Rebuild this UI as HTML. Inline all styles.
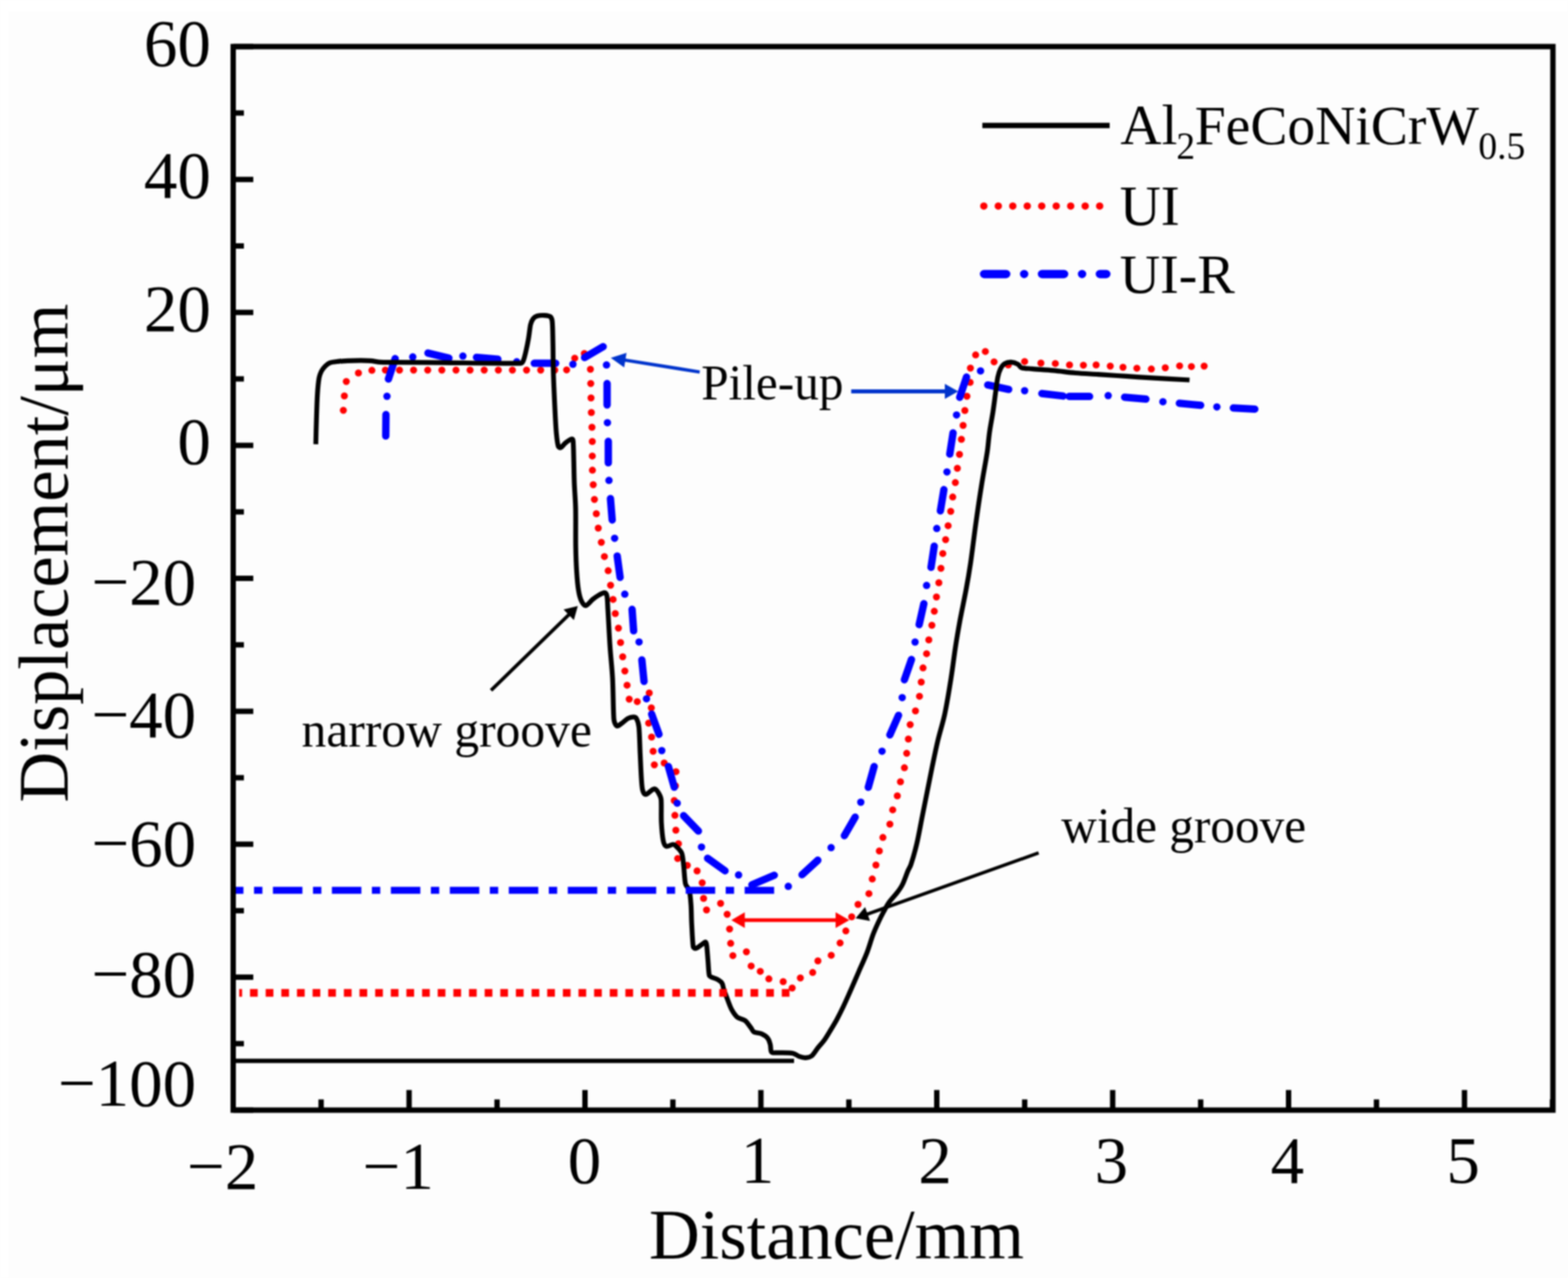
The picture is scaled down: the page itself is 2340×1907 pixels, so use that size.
<!DOCTYPE html>
<html><head><meta charset="utf-8"><title>Displacement profile</title>
<style>html,body{margin:0;padding:0;background:#fdfdfd;}svg{display:block;filter:blur(1px)}</style></head>
<body><svg width="2340" height="1907" viewBox="0 0 2340 1907">
<rect width="2340" height="1907" fill="#fdfdfd"/><rect width="2340" height="17" fill="#ffffff"/><rect width="13" height="1907" fill="#ffffff"/>
<g fill="#ff0000"><circle cx="512.4" cy="612.3" r="5.25"/><circle cx="513.9" cy="590.8" r="5.25"/><circle cx="516.8" cy="569.3" r="5.25"/><circle cx="534.9" cy="556.5" r="5.25"/><circle cx="555.0" cy="552.6" r="5.25"/><circle cx="575.1" cy="552.3" r="5.25"/><circle cx="596.2" cy="552.3" r="5.25"/><circle cx="617.2" cy="552.3" r="5.25"/><circle cx="638.3" cy="552.3" r="5.25"/><circle cx="659.4" cy="552.3" r="5.25"/><circle cx="680.5" cy="552.3" r="5.25"/><circle cx="701.5" cy="552.3" r="5.25"/><circle cx="722.6" cy="552.3" r="5.25"/><circle cx="743.7" cy="552.3" r="5.25"/><circle cx="764.7" cy="552.3" r="5.25"/><circle cx="785.8" cy="552.3" r="5.25"/><circle cx="806.9" cy="552.3" r="5.25"/><circle cx="827.9" cy="552.3" r="5.25"/><circle cx="845.6" cy="551.9" r="5.25"/><circle cx="857.7" cy="534.4" r="5.25"/><circle cx="872.0" cy="527.5" r="5.25"/><circle cx="881.1" cy="551.0" r="5.25"/><circle cx="881.6" cy="572.2" r="5.25"/><circle cx="882.0" cy="593.8" r="5.25"/><circle cx="882.5" cy="615.5" r="5.25"/><circle cx="883.4" cy="637.5" r="5.25"/><circle cx="883.9" cy="658.7" r="5.25"/><circle cx="883.9" cy="680.4" r="5.25"/><circle cx="884.1" cy="701.6" r="5.25"/><circle cx="885.3" cy="723.2" r="5.25"/><circle cx="887.1" cy="745.3" r="5.25"/><circle cx="889.9" cy="766.5" r="5.25"/><circle cx="892.8" cy="788.0" r="5.25"/><circle cx="897.4" cy="809.2" r="5.25"/><circle cx="902.0" cy="830.4" r="5.25"/><circle cx="907.6" cy="851.6" r="5.25"/><circle cx="911.2" cy="873.2" r="5.25"/><circle cx="914.9" cy="894.4" r="5.25"/><circle cx="918.2" cy="915.5" r="5.25"/><circle cx="922.9" cy="937.2" r="5.25"/><circle cx="926.1" cy="958.8" r="5.25"/><circle cx="929.3" cy="980.0" r="5.25"/><circle cx="932.5" cy="1001.2" r="5.25"/><circle cx="935.8" cy="1022.4" r="5.25"/><circle cx="939.0" cy="1043.2" r="5.25"/><circle cx="951.0" cy="1046.9" r="5.25"/><circle cx="968.9" cy="1034.0" r="5.25"/><circle cx="972.0" cy="1056.3" r="5.25"/><circle cx="968.0" cy="1079.0" r="5.25"/><circle cx="972.4" cy="1099.8" r="5.25"/><circle cx="974.7" cy="1121.0" r="5.25"/><circle cx="976.5" cy="1141.2" r="5.25"/><circle cx="991.2" cy="1138.5" r="5.25"/><circle cx="1008.8" cy="1151.4" r="5.25"/><circle cx="1008.0" cy="1172.5" r="5.25"/><circle cx="1006.2" cy="1194.5" r="5.25"/><circle cx="1007.2" cy="1216.6" r="5.25"/><circle cx="1008.6" cy="1238.7" r="5.25"/><circle cx="1012.5" cy="1259.0" r="5.25"/><circle cx="1011.3" cy="1281.1" r="5.25"/><circle cx="1025.7" cy="1291.2" r="5.25"/><circle cx="1040.3" cy="1299.5" r="5.25"/><circle cx="1047.9" cy="1317.2" r="5.25"/><circle cx="1050.0" cy="1340.5" r="5.25"/><circle cx="1054.4" cy="1357.7" r="5.25"/><circle cx="1075.4" cy="1348.0" r="5.25"/><circle cx="1085.2" cy="1364.2" r="5.25"/><circle cx="1088.8" cy="1386.3" r="5.25"/><circle cx="1090.4" cy="1407.6" r="5.25"/><circle cx="1093.7" cy="1425.9" r="5.25"/><circle cx="1113.9" cy="1420.3" r="5.25"/><circle cx="1121.0" cy="1441.4" r="5.25"/><circle cx="1134.6" cy="1449.4" r="5.25"/><circle cx="1147.4" cy="1460.6" r="5.25"/><circle cx="1168.8" cy="1464.8" r="5.25"/><circle cx="1182.2" cy="1474.2" r="5.25"/><circle cx="1194.4" cy="1459.2" r="5.25"/><circle cx="1212.8" cy="1451.1" r="5.25"/><circle cx="1220.6" cy="1433.8" r="5.25"/><circle cx="1240.5" cy="1425.4" r="5.25"/><circle cx="1253.7" cy="1407.1" r="5.25"/><circle cx="1262.3" cy="1389.1" r="5.25"/><circle cx="1271.0" cy="1368.0" r="5.25"/><circle cx="1280.5" cy="1349.5" r="5.25"/><circle cx="1296.7" cy="1333.4" r="5.25"/><circle cx="1301.7" cy="1311.6" r="5.25"/><circle cx="1307.2" cy="1290.7" r="5.25"/><circle cx="1312.3" cy="1269.8" r="5.25"/><circle cx="1317.6" cy="1249.6" r="5.25"/><circle cx="1328.0" cy="1229.8" r="5.25"/><circle cx="1332.2" cy="1208.4" r="5.25"/><circle cx="1339.1" cy="1187.5" r="5.25"/><circle cx="1343.8" cy="1166.5" r="5.25"/><circle cx="1349.7" cy="1145.6" r="5.25"/><circle cx="1353.1" cy="1124.1" r="5.25"/><circle cx="1355.6" cy="1102.8" r="5.25"/><circle cx="1358.3" cy="1081.3" r="5.25"/><circle cx="1366.2" cy="1060.8" r="5.25"/><circle cx="1372.2" cy="1038.9" r="5.25"/><circle cx="1374.8" cy="1017.7" r="5.25"/><circle cx="1377.5" cy="996.6" r="5.25"/><circle cx="1382.8" cy="975.4" r="5.25"/><circle cx="1386.1" cy="954.8" r="5.25"/><circle cx="1390.7" cy="933.0" r="5.25"/><circle cx="1394.3" cy="912.1" r="5.25"/><circle cx="1397.5" cy="890.8" r="5.25"/><circle cx="1401.1" cy="869.5" r="5.25"/><circle cx="1404.2" cy="848.0" r="5.25"/><circle cx="1407.0" cy="825.9" r="5.25"/><circle cx="1411.2" cy="805.2" r="5.25"/><circle cx="1414.9" cy="784.4" r="5.25"/><circle cx="1418.8" cy="763.0" r="5.25"/><circle cx="1421.8" cy="741.6" r="5.25"/><circle cx="1425.7" cy="720.1" r="5.25"/><circle cx="1428.7" cy="698.7" r="5.25"/><circle cx="1431.9" cy="678.0" r="5.25"/><circle cx="1434.7" cy="655.5" r="5.25"/><circle cx="1437.3" cy="634.8" r="5.25"/><circle cx="1439.9" cy="612.5" r="5.25"/><circle cx="1443.0" cy="591.2" r="5.25"/><circle cx="1447.7" cy="570.5" r="5.25"/><circle cx="1448.2" cy="549.3" r="5.25"/><circle cx="1456.0" cy="529.6" r="5.25"/><circle cx="1470.5" cy="524.4" r="5.25"/><circle cx="1483.5" cy="539.9" r="5.25"/><circle cx="1504.7" cy="544.6" r="5.25"/><circle cx="1529.1" cy="539.4" r="5.25"/><circle cx="1553.4" cy="541.7" r="5.25"/><circle cx="1574.9" cy="542.4" r="5.25"/><circle cx="1596.1" cy="544.5" r="5.25"/><circle cx="1616.8" cy="544.9" r="5.25"/><circle cx="1635.8" cy="544.5" r="5.25"/><circle cx="1656.9" cy="546.3" r="5.25"/><circle cx="1675.9" cy="548.0" r="5.25"/><circle cx="1696.6" cy="549.4" r="5.25"/><circle cx="1718.2" cy="550.6" r="5.25"/><circle cx="1739.0" cy="548.7" r="5.25"/><circle cx="1760.4" cy="545.9" r="5.25"/><circle cx="1778.0" cy="546.9" r="5.25"/><circle cx="1797.0" cy="546.3" r="5.25"/></g>
<path d="M575.7 650.6L576.0 618.6M579.7 565.5L589.7 535.1M638.7 526.8L669.9 534.4M711.1 533.2L743.0 536.0M797.3 542.1L829.3 542.1M872.4 533.4L900.1 517.3M906.0 572.3L906.0 604.3M907.8 658.6L907.8 690.6M911.0 744.0L913.6 775.9M921.1 829.7L925.4 861.5M943.3 909.3L945.6 941.3M957.9 984.8L961.1 1016.7M972.5 1065.6L983.4 1095.7M997.5 1143.8L1006.2 1174.6M1020.1 1217.1L1042.3 1240.1M1056.0 1280.8L1082.0 1299.4M1122.1 1320.3L1155.5 1306.0M1196.9 1305.3L1220.5 1283.6M1260.1 1246.9L1276.2 1219.3M1295.8 1174.7L1304.5 1143.8M1328.0 1096.6L1340.9 1067.4M1349.7 1014.3L1360.2 984.1M1371.7 932.0L1378.7 900.8M1389.4 846.6L1394.2 814.9M1403.4 762.2L1408.6 730.6M1417.4 677.6L1422.3 646.0M1432.2 592.9L1442.4 562.6M1474.1 574.4L1505.3 581.1M1554.8 587.2L1586.5 590.9M1595.5 591.4L1626.0 591.6M1678.3 592.8L1710.1 595.5M1760.0 601.8L1791.8 604.8M1840.6 608.8L1872.6 610.5" stroke="#0000ff" stroke-width="11" stroke-linecap="round" fill="none"/>
<g fill="#0000ff"><circle cx="577.5" cy="591.3" r="5.5"/><circle cx="616.0" cy="532.6" r="5.5"/><circle cx="690.8" cy="531.3" r="5.5"/><circle cx="771.2" cy="539.8" r="5.5"/><circle cx="855.0" cy="543.5" r="5.5"/><circle cx="905.1" cy="544.6" r="5.5"/><circle cx="906.5" cy="630.7" r="5.5"/><circle cx="908.8" cy="716.8" r="5.5"/><circle cx="917.2" cy="803.2" r="5.5"/><circle cx="932.4" cy="886.6" r="5.5"/><circle cx="953.7" cy="957.9" r="5.5"/><circle cx="964.8" cy="1042.7" r="5.5"/><circle cx="987.6" cy="1120.0" r="5.5"/><circle cx="1010.6" cy="1198.4" r="5.5"/><circle cx="1046.9" cy="1263.9" r="5.5"/><circle cx="1102.2" cy="1305.6" r="5.5"/><circle cx="1176.4" cy="1322.6" r="5.5"/><circle cx="1240.3" cy="1264.8" r="5.5"/><circle cx="1284.6" cy="1197.0" r="5.5"/><circle cx="1316.3" cy="1120.9" r="5.5"/><circle cx="1346.4" cy="1040.9" r="5.5"/><circle cx="1365.6" cy="958.1" r="5.5"/><circle cx="1382.8" cy="873.6" r="5.5"/><circle cx="1398.0" cy="788.6" r="5.5"/><circle cx="1413.2" cy="704.2" r="5.5"/><circle cx="1427.5" cy="619.2" r="5.5"/><circle cx="1463.3" cy="553.4" r="5.5"/><circle cx="1529.1" cy="583.0" r="5.5"/><circle cx="1653.8" cy="590.3" r="5.5"/><circle cx="1735.5" cy="599.4" r="5.5"/><circle cx="1816.0" cy="607.2" r="5.5"/></g>
<path d="M471.3 662.8C471.4 656.9 471.8 639.3 472.2 627.5C472.6 615.1 473.0 599.0 473.7 588.4C474.2 580.2 475.2 569.6 476.2 563.9C476.8 560.5 478.1 557.0 479.6 554.0C481.1 551.1 483.4 548.3 485.5 546.2C487.5 544.2 489.7 542.3 492.3 541.3C495.4 540.2 500.1 539.8 504.0 539.4C508.4 538.9 513.9 538.6 518.8 538.4C524.5 538.1 532.7 537.9 538.4 537.9C543.3 537.9 548.1 538.0 553.0 538.4C557.9 538.8 562.8 540.1 567.7 540.4C573.4 540.8 580.8 540.6 587.3 540.6C602.7 540.7 635.8 540.9 660.0 541.1C691.6 541.4 756.9 542.6 777.1 542.1C779.0 542.1 780.3 539.8 781.0 538.1C782.3 535.0 783.9 528.4 785.0 523.5C786.3 517.8 787.8 510.4 788.9 503.9C790.0 497.4 790.7 489.0 791.8 484.3C792.5 481.2 794.1 477.6 795.7 475.5C797.1 473.6 799.3 472.2 801.6 471.5C804.4 470.7 809.1 470.4 812.4 470.6C815.4 470.8 819.2 471.0 821.2 472.5C823.2 474.0 823.8 476.9 824.1 479.4C824.8 485.4 824.9 499.0 825.1 508.8C825.4 520.2 825.4 536.5 825.6 547.9C825.8 557.7 826.2 567.5 826.6 577.3C827.1 589.3 828.0 608.3 828.6 620.0C829.1 629.2 829.6 639.9 830.4 647.6C831.0 653.8 832.1 662.7 833.2 666.1C833.6 667.4 835.7 668.5 836.9 667.9C838.7 667.0 841.5 662.7 844.2 660.6C847.0 658.5 851.6 655.3 853.5 655.0C854.9 654.8 855.2 657.3 855.3 658.7C855.8 663.6 856.0 675.9 856.2 684.5C856.5 695.0 856.6 709.1 857.1 721.4C857.6 733.7 858.7 745.9 859.0 758.2C859.4 774.0 858.9 800.3 859.2 816.1C859.4 828.4 859.9 842.1 860.6 852.9C861.2 862.2 862.1 873.2 863.3 880.6C864.2 886.3 866.0 893.4 867.9 897.2C869.2 899.9 871.6 904.1 874.4 903.6C877.2 903.1 881.3 897.0 884.5 894.4C887.4 892.1 890.8 889.7 893.7 888.0C896.3 886.5 900.0 884.1 902.0 884.3C904.0 884.4 905.3 887.0 905.7 888.9C906.6 892.9 906.7 901.8 907.1 908.2C907.9 920.9 909.2 948.1 910.4 965.3C911.4 980.7 913.3 996.0 914.1 1011.4C915.1 1029.3 915.1 1061.0 916.1 1073.0C916.4 1076.7 918.4 1082.1 920.3 1083.2C922.2 1084.3 925.3 1081.0 927.6 1079.5C930.4 1077.7 934.0 1073.7 936.9 1072.1C939.4 1070.7 943.1 1069.8 945.2 1069.8C946.9 1069.8 949.0 1070.6 949.8 1072.1C951.2 1074.6 953.0 1080.6 953.5 1085.0C954.4 1093.6 954.7 1111.1 955.3 1123.7C955.9 1136.0 956.5 1151.4 957.1 1160.6C957.5 1166.8 957.9 1174.8 959.0 1179.0C959.7 1181.6 961.3 1185.5 963.6 1185.5C965.9 1185.5 970.5 1180.4 972.8 1179.0C974.2 1178.2 975.9 1176.5 977.4 1177.2C979.1 1178.0 981.6 1181.2 983.0 1183.6C984.5 1186.2 986.3 1189.6 986.6 1192.9C987.3 1200.1 986.5 1216.6 987.0 1226.9C987.5 1236.1 988.6 1248.5 989.8 1254.5C990.4 1257.6 991.9 1261.9 994.4 1262.8C996.9 1263.7 1001.9 1259.8 1004.5 1260.0C1006.7 1260.1 1008.4 1262.1 1010.0 1263.7C1012.1 1265.9 1016.0 1269.3 1017.4 1273.0C1019.1 1277.6 1019.5 1285.2 1020.2 1291.4C1021.1 1299.1 1021.6 1312.9 1023.0 1319.0C1023.8 1322.5 1027.6 1324.7 1028.5 1328.2C1029.9 1333.4 1030.7 1342.7 1031.2 1350.0C1031.8 1358.2 1031.7 1368.4 1032.2 1377.6C1032.8 1388.1 1033.5 1407.0 1034.6 1413.2C1034.9 1414.7 1037.3 1415.5 1038.8 1415.1C1040.9 1414.5 1044.8 1411.1 1047.2 1409.5C1049.1 1408.2 1051.7 1405.4 1052.9 1405.7C1054.2 1406.0 1054.4 1409.4 1054.7 1411.4C1055.3 1416.1 1056.0 1426.6 1056.6 1433.9C1057.2 1441.1 1057.5 1451.4 1058.5 1455.5C1058.9 1457.0 1060.9 1457.6 1062.3 1458.3C1064.2 1459.2 1067.5 1459.8 1069.8 1461.1C1072.3 1462.5 1075.6 1464.3 1077.3 1466.8C1079.0 1469.3 1079.0 1473.1 1080.1 1476.2C1081.5 1480.2 1083.7 1486.1 1085.6 1491.0C1087.6 1496.1 1089.7 1502.5 1092.2 1507.0C1094.5 1511.1 1097.4 1515.5 1100.7 1518.2C1103.9 1520.7 1108.7 1520.4 1111.9 1522.9C1115.2 1525.4 1118.2 1530.4 1120.4 1533.2C1122.1 1535.3 1122.8 1538.4 1125.1 1539.8C1127.8 1541.4 1132.9 1541.0 1136.3 1542.6C1139.7 1544.2 1143.5 1546.5 1145.7 1549.2C1147.9 1551.8 1148.6 1555.3 1149.5 1558.6C1150.5 1562.0 1149.7 1567.9 1151.4 1569.9C1153.1 1571.9 1157.0 1570.6 1159.8 1570.8C1165.1 1571.1 1177.8 1570.8 1183.3 1571.7C1186.8 1572.3 1189.6 1575.3 1192.7 1576.4C1195.7 1577.5 1199.0 1578.5 1202.1 1578.3C1205.2 1578.1 1208.9 1577.5 1211.5 1575.5C1214.6 1573.0 1217.7 1567.2 1220.8 1563.3C1223.9 1559.5 1227.4 1556.0 1230.2 1552.0C1233.3 1547.6 1236.5 1542.0 1239.6 1537.0C1242.7 1531.8 1246.1 1526.4 1249.0 1521.0C1252.1 1515.2 1255.4 1508.6 1258.4 1502.3C1261.5 1495.7 1264.7 1488.5 1267.8 1481.6C1270.9 1474.5 1274.8 1465.5 1277.2 1460.0C1278.8 1456.2 1280.5 1452.4 1282.1 1448.6C1284.8 1442.3 1290.1 1431.1 1293.6 1422.1C1297.1 1413.1 1300.0 1402.2 1302.9 1394.5C1305.3 1388.2 1308.2 1381.8 1310.9 1376.0C1313.4 1370.6 1316.3 1364.9 1319.0 1359.9C1321.5 1355.2 1323.9 1350.4 1327.0 1346.1C1330.3 1341.5 1335.3 1336.6 1338.6 1332.3C1341.6 1328.4 1344.5 1324.4 1346.7 1320.0C1349.4 1314.6 1352.6 1305.0 1354.7 1300.0C1356.1 1296.6 1358.3 1293.6 1359.4 1290.1C1361.7 1283.2 1365.8 1269.1 1368.3 1258.4C1371.0 1246.8 1373.4 1233.1 1375.9 1220.4C1378.4 1207.7 1381.0 1195.1 1383.5 1182.4C1386.0 1169.7 1388.5 1157.0 1391.1 1144.4C1393.8 1131.5 1396.5 1118.1 1399.6 1105.0C1402.7 1091.8 1407.1 1078.7 1409.9 1065.4C1413.2 1050.0 1416.6 1029.0 1419.2 1012.5C1421.7 997.1 1423.6 980.5 1425.8 966.1C1427.8 952.8 1430.1 939.6 1432.5 926.4C1435.2 912.0 1439.0 894.5 1441.7 880.0C1444.2 866.6 1446.5 853.2 1448.5 839.7C1451.0 822.6 1454.0 797.1 1456.8 777.5C1459.4 759.0 1462.3 739.5 1465.1 722.2C1467.7 706.0 1471.5 686.6 1473.4 673.8C1474.8 664.3 1475.3 654.7 1476.7 645.2C1478.1 635.2 1480.3 624.5 1481.9 614.1C1483.5 603.8 1484.9 591.6 1486.1 583.0C1487.1 576.1 1488.0 567.7 1489.2 562.2C1490.1 557.9 1491.6 553.1 1493.3 549.8C1494.8 547.0 1496.9 544.1 1499.5 542.5C1502.1 540.9 1505.7 540.2 1508.9 540.4C1512.2 540.6 1516.6 542.2 1519.2 543.6C1521.3 544.7 1522.1 547.9 1524.4 548.7C1527.9 549.8 1534.8 549.9 1540.0 550.4C1548.0 551.1 1561.6 551.9 1572.4 552.9C1583.2 553.9 1594.0 555.6 1604.8 556.5C1615.8 557.5 1627.3 557.9 1638.6 558.6C1651.3 559.4 1666.7 560.5 1680.8 561.4C1694.9 562.3 1709.0 563.4 1723.1 564.2C1738.8 565.1 1766.5 566.5 1775.2 567.0" stroke="#000" stroke-width="7.2" fill="none" stroke-linejoin="round"/>
<line x1="352" y1="1583" x2="1185" y2="1583" stroke="#000" stroke-width="6.5"/>
<g fill="#ff0000"><rect x="357.0" y="1475.8" width="4.3" height="11.5"/><rect x="373.1" y="1475.8" width="11.5" height="11.5"/><rect x="396.5" y="1475.8" width="11.5" height="11.5"/><rect x="419.8" y="1475.8" width="11.5" height="11.5"/><rect x="443.2" y="1475.8" width="11.5" height="11.5"/><rect x="466.5" y="1475.8" width="11.5" height="11.5"/><rect x="489.8" y="1475.8" width="11.5" height="11.5"/><rect x="513.2" y="1475.8" width="11.5" height="11.5"/><rect x="536.5" y="1475.8" width="11.5" height="11.5"/><rect x="559.9" y="1475.8" width="11.5" height="11.5"/><rect x="583.2" y="1475.8" width="11.5" height="11.5"/><rect x="606.5" y="1475.8" width="11.5" height="11.5"/><rect x="629.9" y="1475.8" width="11.5" height="11.5"/><rect x="653.2" y="1475.8" width="11.5" height="11.5"/><rect x="676.6" y="1475.8" width="11.5" height="11.5"/><rect x="699.9" y="1475.8" width="11.5" height="11.5"/><rect x="723.3" y="1475.8" width="11.5" height="11.5"/><rect x="746.6" y="1475.8" width="11.5" height="11.5"/><rect x="769.9" y="1475.8" width="11.5" height="11.5"/><rect x="793.3" y="1475.8" width="11.5" height="11.5"/><rect x="816.6" y="1475.8" width="11.5" height="11.5"/><rect x="840.0" y="1475.8" width="11.5" height="11.5"/><rect x="863.3" y="1475.8" width="11.5" height="11.5"/><rect x="886.6" y="1475.8" width="11.5" height="11.5"/><rect x="910.0" y="1475.8" width="11.5" height="11.5"/><rect x="933.3" y="1475.8" width="11.5" height="11.5"/><rect x="956.7" y="1475.8" width="11.5" height="11.5"/><rect x="980.0" y="1475.8" width="11.5" height="11.5"/><rect x="1003.3" y="1475.8" width="11.5" height="11.5"/><rect x="1026.7" y="1475.8" width="11.5" height="11.5"/><rect x="1050.0" y="1475.8" width="11.5" height="11.5"/><rect x="1073.4" y="1475.8" width="11.5" height="11.5"/><rect x="1096.7" y="1475.8" width="11.5" height="11.5"/><rect x="1120.0" y="1475.8" width="11.5" height="11.5"/><rect x="1143.4" y="1475.8" width="11.5" height="11.5"/><rect x="1166.7" y="1475.8" width="11.5" height="11.5"/></g>
<g fill="#0000ff"><rect x="352.0" y="1323.3" width="11.3" height="10.4"/><rect x="407.3" y="1323.3" width="44.0" height="10.4"/><rect x="379.1" y="1323.3" width="12.5" height="10.4"/><rect x="495.3" y="1323.3" width="44.0" height="10.4"/><rect x="467.1" y="1323.3" width="12.5" height="10.4"/><rect x="583.3" y="1323.3" width="44.0" height="10.4"/><rect x="555.0" y="1323.3" width="12.5" height="10.4"/><rect x="671.3" y="1323.3" width="44.0" height="10.4"/><rect x="643.0" y="1323.3" width="12.5" height="10.4"/><rect x="759.3" y="1323.3" width="44.0" height="10.4"/><rect x="731.0" y="1323.3" width="12.5" height="10.4"/><rect x="847.3" y="1323.3" width="44.0" height="10.4"/><rect x="819.0" y="1323.3" width="12.5" height="10.4"/><rect x="935.3" y="1323.3" width="44.0" height="10.4"/><rect x="907.0" y="1323.3" width="12.5" height="10.4"/><rect x="1023.3" y="1323.3" width="44.0" height="10.4"/><rect x="995.0" y="1323.3" width="12.5" height="10.4"/><rect x="1111.3" y="1323.3" width="44.0" height="10.4"/><rect x="1083.0" y="1323.3" width="12.5" height="10.4"/></g>
<rect x="348" y="69.5" width="1969.5" height="1587" fill="none" stroke="#000" stroke-width="8"/>
<line x1="348.0" y1="1656.5" x2="348.0" y2="1626.5" stroke="#000" stroke-width="8"/>
<line x1="479.2" y1="1656.5" x2="479.2" y2="1640.5" stroke="#000" stroke-width="8"/>
<line x1="610.5" y1="1656.5" x2="610.5" y2="1626.5" stroke="#000" stroke-width="8"/>
<line x1="741.8" y1="1656.5" x2="741.8" y2="1640.5" stroke="#000" stroke-width="8"/>
<line x1="873.0" y1="1656.5" x2="873.0" y2="1626.5" stroke="#000" stroke-width="8"/>
<line x1="1004.2" y1="1656.5" x2="1004.2" y2="1640.5" stroke="#000" stroke-width="8"/>
<line x1="1135.5" y1="1656.5" x2="1135.5" y2="1626.5" stroke="#000" stroke-width="8"/>
<line x1="1266.8" y1="1656.5" x2="1266.8" y2="1640.5" stroke="#000" stroke-width="8"/>
<line x1="1398.0" y1="1656.5" x2="1398.0" y2="1626.5" stroke="#000" stroke-width="8"/>
<line x1="1529.2" y1="1656.5" x2="1529.2" y2="1640.5" stroke="#000" stroke-width="8"/>
<line x1="1660.5" y1="1656.5" x2="1660.5" y2="1626.5" stroke="#000" stroke-width="8"/>
<line x1="1791.8" y1="1656.5" x2="1791.8" y2="1640.5" stroke="#000" stroke-width="8"/>
<line x1="1923.0" y1="1656.5" x2="1923.0" y2="1626.5" stroke="#000" stroke-width="8"/>
<line x1="2054.2" y1="1656.5" x2="2054.2" y2="1640.5" stroke="#000" stroke-width="8"/>
<line x1="2185.5" y1="1656.5" x2="2185.5" y2="1626.5" stroke="#000" stroke-width="8"/>
<line x1="2316.8" y1="1656.5" x2="2316.8" y2="1640.5" stroke="#000" stroke-width="8"/>
<line x1="348" y1="1656.5" x2="378" y2="1656.5" stroke="#000" stroke-width="8"/>
<line x1="348" y1="1557.3" x2="364" y2="1557.3" stroke="#000" stroke-width="8"/>
<line x1="348" y1="1458.1" x2="378" y2="1458.1" stroke="#000" stroke-width="8"/>
<line x1="348" y1="1358.9" x2="364" y2="1358.9" stroke="#000" stroke-width="8"/>
<line x1="348" y1="1259.7" x2="378" y2="1259.7" stroke="#000" stroke-width="8"/>
<line x1="348" y1="1160.5" x2="364" y2="1160.5" stroke="#000" stroke-width="8"/>
<line x1="348" y1="1061.4" x2="378" y2="1061.4" stroke="#000" stroke-width="8"/>
<line x1="348" y1="962.2" x2="364" y2="962.2" stroke="#000" stroke-width="8"/>
<line x1="348" y1="863.0" x2="378" y2="863.0" stroke="#000" stroke-width="8"/>
<line x1="348" y1="763.8" x2="364" y2="763.8" stroke="#000" stroke-width="8"/>
<line x1="348" y1="664.6" x2="378" y2="664.6" stroke="#000" stroke-width="8"/>
<line x1="348" y1="565.4" x2="364" y2="565.4" stroke="#000" stroke-width="8"/>
<line x1="348" y1="466.2" x2="378" y2="466.2" stroke="#000" stroke-width="8"/>
<line x1="348" y1="367.0" x2="364" y2="367.0" stroke="#000" stroke-width="8"/>
<line x1="348" y1="267.8" x2="378" y2="267.8" stroke="#000" stroke-width="8"/>
<line x1="348" y1="168.6" x2="364" y2="168.6" stroke="#000" stroke-width="8"/>
<line x1="348" y1="69.5" x2="378" y2="69.5" stroke="#000" stroke-width="8"/>
<text x="314.8" y="98.4" font-family="'Liberation Serif', serif" font-size="100" text-anchor="end">60</text>
<text x="314.8" y="295.3" font-family="'Liberation Serif', serif" font-size="100" text-anchor="end">40</text>
<text x="314.8" y="493.6" font-family="'Liberation Serif', serif" font-size="100" text-anchor="end">20</text>
<text x="314.8" y="692.2" font-family="'Liberation Serif', serif" font-size="100" text-anchor="end">0</text>
<text x="292.8" y="902.3" font-family="'Liberation Serif', serif" font-size="100" text-anchor="end">−20</text>
<text x="292.8" y="1100.2" font-family="'Liberation Serif', serif" font-size="100" text-anchor="end">−40</text>
<text x="292.8" y="1291.8" font-family="'Liberation Serif', serif" font-size="100" text-anchor="end">−60</text>
<text x="292.8" y="1487" font-family="'Liberation Serif', serif" font-size="100" text-anchor="end">−80</text>
<text x="292.8" y="1650" font-family="'Liberation Serif', serif" font-size="100" text-anchor="end">−100</text>
<text x="279.1" y="1774.3" font-family="'Liberation Serif', serif" font-size="100">−2</text>
<text x="541.1" y="1774.3" font-family="'Liberation Serif', serif" font-size="100">−1</text>
<text x="847.2" y="1764.8" font-family="'Liberation Serif', serif" font-size="100">0</text>
<text x="1105.4" y="1764.8" font-family="'Liberation Serif', serif" font-size="100">1</text>
<text x="1370.5" y="1764.8" font-family="'Liberation Serif', serif" font-size="100">2</text>
<text x="1633.6" y="1764.8" font-family="'Liberation Serif', serif" font-size="100">3</text>
<text x="1896.2" y="1764.8" font-family="'Liberation Serif', serif" font-size="100">4</text>
<text x="2158.6" y="1764.8" font-family="'Liberation Serif', serif" font-size="100">5</text>
<text x="968.4" y="1878.4" font-family="'Liberation Serif', serif" font-size="105">Distance/mm</text>
<text transform="translate(101.3,1197.6) rotate(-90)" font-family="'Liberation Serif', serif" font-size="105">Displacement/μm</text>
<line x1="1466" y1="187.3" x2="1656" y2="187.3" stroke="#000" stroke-width="8"/>
<text x="1672" y="215" font-family="'Liberation Serif', serif" font-size="85">Al<tspan x="1755.5" y="236.6" font-size="56">2</tspan><tspan x="1782.9" y="215" font-size="83">FeCoNiCrW</tspan><tspan x="2206.2" y="236.8" font-size="56">0.5</tspan></text>
<line x1="1468.2" y1="307.4" x2="1642" y2="307.4" stroke="#ff0000" stroke-width="11" stroke-linecap="round" stroke-dasharray="0.01 21.6"/>
<text x="1670.9" y="336.4" font-family="'Liberation Serif', serif" font-size="85">UI</text>
<line x1="1468.6" y1="408.9" x2="1651" y2="408.9" stroke="#0000ff" stroke-width="12.5" stroke-linecap="round" stroke-dasharray="33 26.8 0.01 26.6"/>
<text x="1671" y="436.6" font-family="'Liberation Serif', serif" font-size="83.5">UI-R</text>
<text x="1046.4" y="595.5" font-family="'Liberation Serif', serif" font-size="73.5">Pile-up</text>
<text x="449.9" y="1113.6" font-family="'Liberation Serif', serif" font-size="74">narrow groove</text>
<text x="1583.8" y="1256.9" font-family="'Liberation Serif', serif" font-size="73.5">wide groove</text>
<line x1="1044.2" y1="555.1" x2="931.3" y2="537.1" stroke="#0033cc" stroke-width="5.0"/><path d="M911.5 534.0L935.0 526.6L931.5 548.3Z" fill="#0033cc"/>
<line x1="1270.3" y1="584.0" x2="1412.0" y2="584.0" stroke="#0033cc" stroke-width="6.0"/><path d="M1430.0 584.0L1410.0 595.3L1410.0 572.7Z" fill="#0033cc"/>
<line x1="732.8" y1="1030.2" x2="850.1" y2="916.1" stroke="#000" stroke-width="5.2"/><path d="M862.3 904.2L856.4 925.3L841.0 909.6Z" fill="#000"/>
<line x1="1550.0" y1="1272.7" x2="1292.8" y2="1364.6" stroke="#000" stroke-width="5.0"/><path d="M1276.8 1370.3L1291.0 1353.5L1298.4 1374.3Z" fill="#000"/>
<line x1="1105" y1="1373" x2="1253" y2="1373" stroke="#ff0000" stroke-width="5.5"/>
<path d="M1091.4 1373.0L1111.5 1361.2L1111.5 1384.8Z" fill="#ff0000"/>
<path d="M1267.5 1373.0L1247.0 1384.8L1247.0 1361.2Z" fill="#ff0000"/>
</svg></body></html>
